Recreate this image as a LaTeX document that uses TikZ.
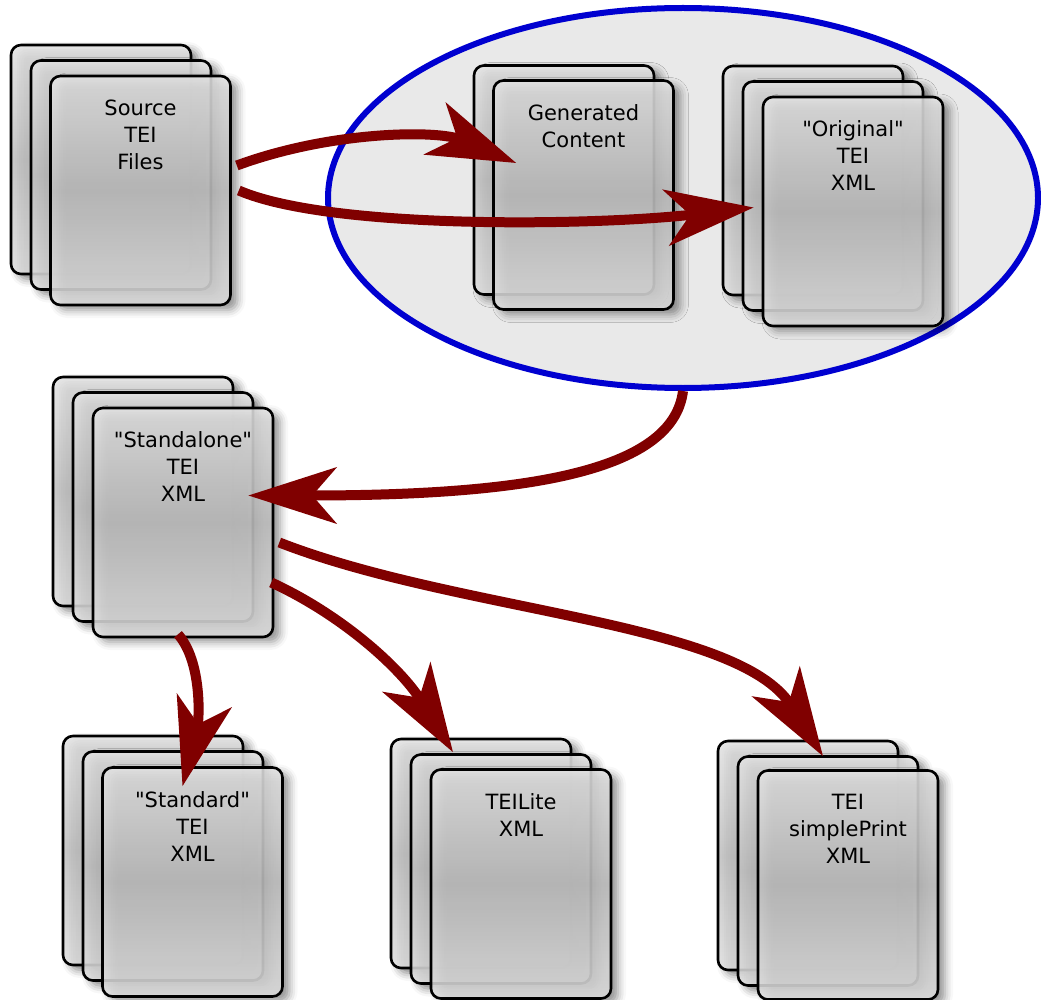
\documentclass[tikz,border=0pt]{standalone}
\usepackage{fontspec}
\setmainfont{DejaVu Sans}
\usepackage{tikz}
\usetikzlibrary{arrows.meta,shapes.geometric,shadows.blur,positioning}
\definecolor{flowred}{RGB}{128,0,0}
\definecolor{ringblue}{RGB}{0,0,208}
\definecolor{ringfill}{RGB}{233,233,233}
\tikzset{
   page/.style={draw=black, line width=2.6pt, rounded corners=10pt,
                top color=black!10, bottom color=black!12, middle color=black!24,
                fill opacity=0.85, draw opacity=1,
                blur shadow={shadow xshift=7pt, shadow yshift=-5pt, shadow blur radius=8pt, shadow opacity=50}},
   front/.style={page, minimum width=180pt, minimum height=229pt, inner sep=0pt},
   pagetext/.style={inner sep=0pt, align=center, font=\fontsize{21pt}{27pt}\selectfont},
   flow/.style={draw=flowred, line width=10pt, -{Stealth[length=88pt,width=56pt,inset=24pt]}},
   bundle/.style={ellipse, draw=ringblue, line width=6pt, fill=ringfill}
}

\begin{document}
\begin{tikzpicture}[x=1pt, y=-1pt]
\useasboundingbox (0,0) rectangle (1041,1000);

\node[bundle, minimum width=710pt, minimum height=380pt] (bundle) at (683,198) {};

% pages behind the front ones
\foreach \X/\Y/\N in {51/76/2, 494/81/1, 763/97/2, 93/408/2, 103/767/2, 431/770/2, 758/772/2}{
	\foreach \k in {\N,...,1}
		\path[page] (\X-20*\k,\Y-15.5*\k) rectangle +(180,229);
}

\node[front] (source) at (140.5,190.5) {};
\node[front] (generated) at (583.5,195) {};
\node[front] (original) at (853,211.5) {};
\node[front] (standalone) at (183,522.5) {};
\node[front] (standard) at (192.5,882) {};
\node[front] (teilite) at (521,884) {};
\node[front] (simpleprint) at (848,885) {};

\node[pagetext, below=25pt of source.north] (source-text) {Source\\TEI\\Files};
\node[pagetext, below=25pt of generated.north] (generated-text) {Generated\\Content};
\node[pagetext, below=25pt of original.north] (original-text) {\textquotedbl Original\textquotedbl\\TEI\\XML};
\node[pagetext, below=25pt of standalone.north] (standalone-text) {\textquotedbl Standalone\textquotedbl\\TEI\\XML};
\node[pagetext, below=25pt of standard.north] (standard-text) {\textquotedbl Standard\textquotedbl\\TEI\\XML};
\node[pagetext, below=25pt of teilite.north] (teilite-text) {TEILite\\XML};
\node[pagetext, below=25pt of simpleprint.north] (simpleprint-text) {TEI\\simplePrint\\XML};

\draw[flow] ([shift={(5,-25)}]source.east) .. controls +(95,-35) and +(-78,-33) .. ([shift={(24,-32)}]generated.west);
\draw[flow] ([shift={(7,0)}]source.east) .. controls +(93,40) and +(-155,18) .. ([shift={(-8,-4)}]original.west);
\draw[flow] (bundle.south) .. controls +(-10,82) and +(273,0) .. ([shift={(-26,-27)}]standalone.east);
\draw[flow] ([shift={(5,20)}]standalone.east) .. controls +(180,70) and +(-85,-135) .. ([shift={(-25,-13)}]simpleprint.north);
\draw[flow] ([shift={(-3,60)}]standalone.east) .. controls +(70,32) and +(-52,-84) .. ([shift={(-68,-16)}]teilite.north);
\draw[flow] ([shift={(-5,-4)}]standalone.south) .. controls +(24,27) and +(17,-67) .. ([shift={(-10,20)}]standard.north);
\end{tikzpicture}
\end{document}
